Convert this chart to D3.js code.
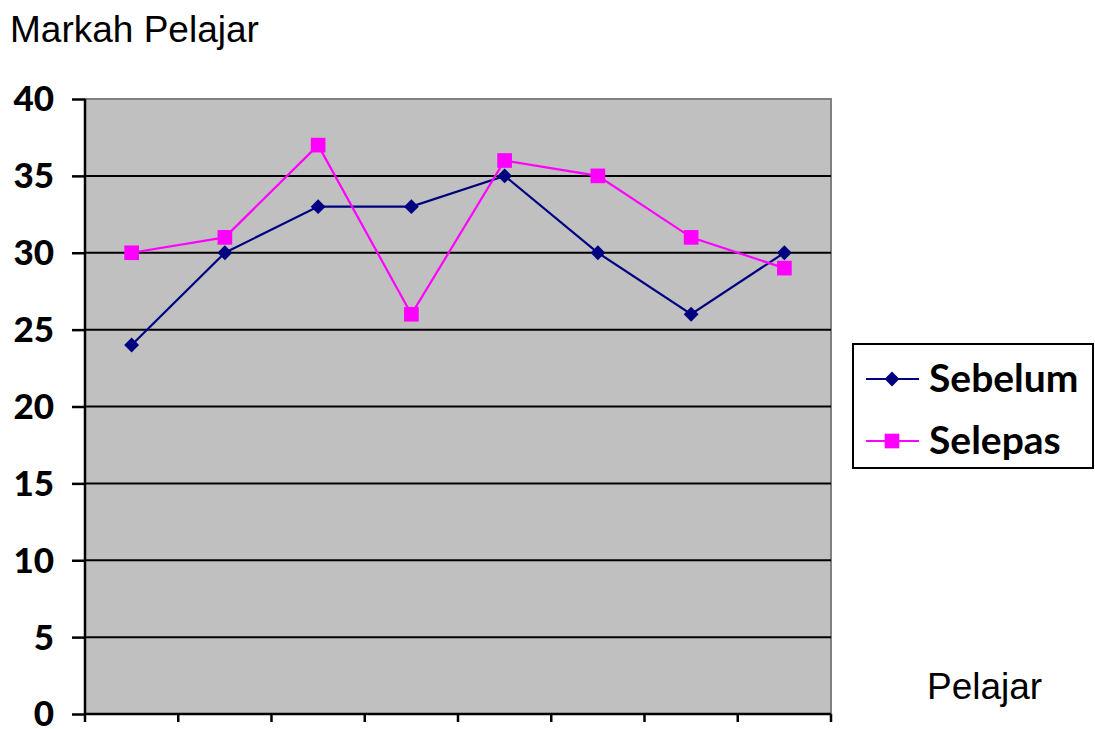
<!DOCTYPE html>
<html>
<head>
  <meta charset="utf8" />
  <style>
    body { margin: 0; background: #fff; }
    .tick text { font-family: Lato, "Open Sans", sans-serif; font-weight: 900; font-size: 35px; fill: #000; }
    .title { font-family: "Liberation Sans", Arial, sans-serif; font-size: 37px; }
    .legend text { font-family: Lato, "Open Sans", sans-serif; font-weight: bold; font-size: 39px; }
  </style>
</head>
<body>
  <script src="https://d3js.org/d3.v7.min.js"></script>
  <script>
    var students = ["1", "2", "3", "4", "5", "6", "7", "8"];
    var sebelum = [24, 30, 33, 33, 35, 30, 26, 30];
    var selepas = [30, 31, 37, 26, 36, 35, 31, 29];
    var yTicks = [0, 5, 10, 15, 20, 25, 30, 35, 40];

    var series = [
      { name: "Sebelum", values: sebelum, color: "#000080", rotate: 45, size: 110 },
      { name: "Selepas", values: selepas, color: "#ff00ff", rotate: 0, size: 215 }
    ];

    var width = 1095, height = 729;
    var plotLeft = 85, plotRight = 831, plotTop = 99, plotBottom = 714;

    var svg = d3.select("body").append("svg").attr("width", width).attr("height", height);

    var x = d3.scaleBand().domain(students).range([plotLeft, plotRight]);
    var y = d3.scaleLinear().domain([0, 40]).range([plotBottom, plotTop]);

    // plot background
    svg.append("rect")
      .attr("x", plotLeft).attr("y", plotTop)
      .attr("width", plotRight - plotLeft).attr("height", plotBottom - plotTop)
      .attr("fill", "#c0c0c0")
      .attr("stroke", "#808080").attr("stroke-width", 2);

    // gridlines
    svg.append("g").selectAll("line")
      .data(yTicks.filter(d => d > 0 && d < 40))
      .enter().append("line")
        .attr("x1", plotLeft).attr("x2", plotRight)
        .attr("y1", d => y(d)).attr("y2", d => y(d))
        .attr("stroke", "#000").attr("stroke-width", 2);

    // y axis
    var yAxis = svg.append("g")
      .attr("transform", "translate(" + plotLeft + ",0)")
      .call(d3.axisLeft(y).tickValues(yTicks).tickSize(13).tickPadding(18));
    yAxis.selectAll("line, path").attr("stroke", "#000").attr("stroke-width", 2.5);
    yAxis.select(".domain").attr("d", "M0," + plotTop + "V" + plotBottom);
    yAxis.selectAll(".tick text").attr("dy", "0.34em");

    // x axis: ticks at category boundaries
    var boundaries = students.map(d => x(d)).concat([plotRight]);
    var xg = svg.append("g");
    xg.append("line")
      .attr("x1", plotLeft).attr("x2", plotRight)
      .attr("y1", plotBottom).attr("y2", plotBottom)
      .attr("stroke", "#000").attr("stroke-width", 2.5);
    xg.selectAll(".xt").data(boundaries).enter().append("line")
      .attr("x1", d => d).attr("x2", d => d)
      .attr("y1", plotBottom).attr("y2", plotBottom + 8)
      .attr("stroke", "#000").attr("stroke-width", 2.5);

    var line = d3.line()
      .x((d, i) => x(students[i]) + x.bandwidth() / 2)
      .y(d => y(d));

    series.forEach(function (s) {
      svg.append("path")
        .datum(s.values)
        .attr("d", line)
        .attr("fill", "none")
        .attr("stroke", s.color)
        .attr("stroke-width", 2.2);
      svg.append("g").selectAll("path")
        .data(s.values)
        .enter().append("path")
          .attr("d", d3.symbol().type(d3.symbolSquare).size(s.size))
          .attr("transform", (d, i) => "translate(" + (x(students[i]) + x.bandwidth() / 2) + "," + y(d) + ") rotate(" + s.rotate + ")")
          .attr("fill", s.color);
    });

    // titles
    svg.append("text").attr("class", "title").attr("x", 10).attr("y", 42).text("Markah Pelajar");
    svg.append("text").attr("class", "title").attr("x", 927).attr("y", 699).text("Pelajar");

    // legend
    var lg = svg.append("g").attr("class", "legend");
    lg.append("rect")
      .attr("x", 853).attr("y", 344).attr("width", 240).attr("height", 124)
      .attr("fill", "#fff").attr("stroke", "#000").attr("stroke-width", 2);
    series.forEach(function (s, i) {
      var cy = 379 + i * 62;
      lg.append("line")
        .attr("x1", 866).attr("x2", 919).attr("y1", cy).attr("y2", cy)
        .attr("stroke", s.color).attr("stroke-width", 2.2);
      lg.append("path")
        .attr("d", d3.symbol().type(d3.symbolSquare).size(s.size))
        .attr("transform", "translate(892," + cy + ") rotate(" + s.rotate + ")")
        .attr("fill", s.color);
      lg.append("text").attr("x", 929).attr("y", cy + 13).text(s.name);
    });
  </script>
</body>
</html>
